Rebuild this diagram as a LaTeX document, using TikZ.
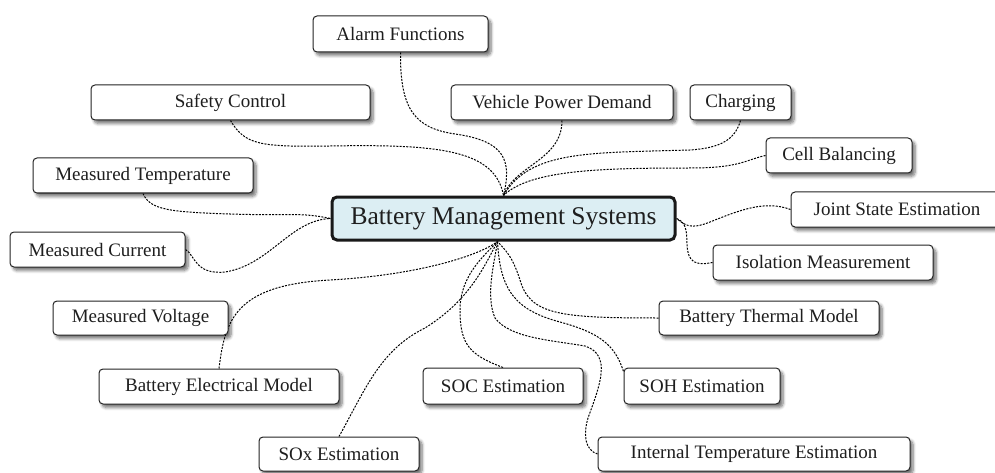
\documentclass[tikz,border=0pt]{standalone}
\usepackage{fontspec}
\setmainfont{Liberation Serif}
\usetikzlibrary{shadows.blur,backgrounds}
\definecolor{centralfill}{RGB}{220,238,243}
\definecolor{textgray}{RGB}{30,30,30}
\definecolor{boxline}{RGB}{35,35,35}
\tikzset{
  box/.style={draw=boxline, line width=1pt, fill=white, rounded corners=4pt,
    inner sep=0pt, minimum height=35pt, text=textgray,
    font=\fontsize{19}{22}\selectfont,
    blur shadow={shadow xshift=3pt, shadow yshift=-3.5pt, shadow blur steps=6, shadow blur radius=3pt, shadow opacity=55}},
  mainbox/.style={draw=black!90, line width=3pt, fill=centralfill, rounded corners=5pt,
    inner sep=0pt, minimum width=343pt, minimum height=43pt, text=textgray,
    font=\fontsize{25.5}{28}\selectfont},
  link/.style={draw=black, line width=1pt, dash pattern=on 2pt off 1.3pt}
}
\begin{document}
\begin{tikzpicture}[x=1pt,y=-1pt]
\useasboundingbox (0,0) rectangle (995,473);
% nodes
\node[mainbox] (bms) at (503.5,218.5) {Battery Management Systems};
\node[box, minimum width=175pt, minimum height=36pt] (alarm) at (400.5,34) {Alarm Functions};
\node[box, minimum width=279pt] (safety) at (230.5,102.5) {Safety Control};
\node[box, minimum width=222pt] (vpd) at (562,102.5) {Vehicle Power Demand};
\node[box, minimum width=101pt] (charging) at (740.5,102.5) {Charging};
\node[box, minimum width=146pt] (cell) at (839,155.5) {Cell Balancing};
\node[box, minimum width=220pt] (mtemp) at (143,175.5) {Measured Temperature};
\node[box, minimum width=212pt] (joint) at (897,209.5) {Joint State Estimation};
\node[box, minimum width=175pt] (mcurrent) at (97.5,249.5) {Measured Current};
\node[box, minimum width=220pt] (isolation) at (823,262.5) {Isolation Measurement};
\node[box, minimum width=175pt, minimum height=34pt] (mvolt) at (140.5,318) {Measured Voltage};
\node[box, minimum width=220pt, minimum height=34pt] (thermal) at (769,318) {Battery Thermal Model};
\node[box, minimum width=240pt] (bem) at (219,386.5) {Battery Electrical Model};
\node[box, minimum width=160pt, minimum height=36pt] (soc) at (503,386) {SOC Estimation};
\node[box, minimum width=156pt, minimum height=36pt] (soh) at (702,386) {SOH Estimation};
\node[box, minimum width=160pt, minimum height=34pt] (sox) at (339,454) {SOx Estimation};
\node[box, minimum width=312pt, minimum height=34pt] (ite) at (754,454) {Internal Temperature Estimation};
\coordinate (cb) at ([xshift=-6pt]bms.south);
% connectors
\begin{scope}[on background layer]
\draw[link] (alarm.south) .. controls (400,110) and (415,128) .. (455,134) .. controls (505,141) and (512,160) .. (bms.north);
\draw[link] (safety.south) .. controls (245,145) and (260,147) .. (330,146) .. controls (440,144) and (495,150) .. (bms.north);
\draw[link] (vpd.south) .. controls (562,160) and (515,165) .. (bms.north);
\draw[link] (charging.south) .. controls (735,140) and (720,148) .. (690,150) .. controls (590,153) and (530,150) .. (bms.north);
\draw[link] (cell.west) .. controls (745,160) and (740,168) .. (690,168) .. controls (600,168) and (530,170) .. (bms.north);
\draw[link] (mtemp.south) .. controls (150,210) and (170,212) .. (230,214) .. controls (290,216) and (300,212) .. (bms.west);
\draw[link] (mcurrent.east) .. controls (195,255) and (195,275) .. (225,272) .. controls (270,265) and (290,220) .. (bms.west);
\draw[link] (bem.north) .. controls (225,320) and (235,285) .. (330,280) .. controls (420,275) and (480,255) .. (cb);
\draw[link] (sox.north) .. controls (365,390) and (380,350) .. (425,328) .. controls (470,300) and (485,265) .. (cb);
\draw[link] (soc.north) .. controls (470,355) and (460,345) .. (460,310) .. controls (460,275) and (485,255) .. (cb);
\draw[link] (thermal.west) .. controls (560,318) and (530,315) .. (520,280) .. controls (512,255) and (505,250) .. (cb);
\draw[link] (cb) .. controls (500,290) and (515,310) .. (560,322) .. controls (600,333) and (615,345) .. ([yshift=-4pt]soh.north west);
\draw[link] (ite.west) .. controls (585,450) and (583,435) .. (588,418) .. controls (600,385) and (612,355) .. (585,346) .. controls (550,340) and (510,338) .. (495,318) .. controls (485,295) and (495,260) .. (cb);
\draw[link] (joint.west) .. controls (765,200) and (740,210) .. (710,222) .. controls (690,230) and (685,225) .. (bms.east);
\draw[link] (isolation.west) .. controls (695,266) and (688,262) .. (687,245) .. controls (687,228) and (685,222) .. (bms.east);
\end{scope}
\end{tikzpicture}
\end{document}
